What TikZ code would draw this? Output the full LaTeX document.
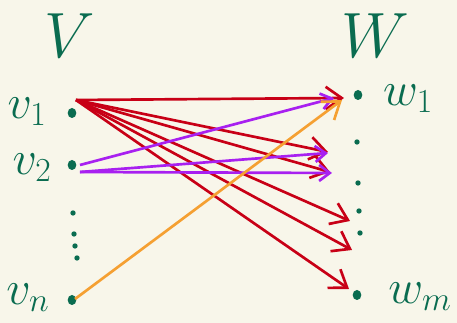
\RequirePackage{fix-cm}
\documentclass[tikz,border=0pt]{standalone}
\usepackage{amsmath}
\usepackage{tikz}
\usetikzlibrary{arrows.meta,shapes.geometric}
\definecolor{paper}{RGB}{248,246,234}
\definecolor{ink}{RGB}{10,108,80}
\definecolor{redpen}{RGB}{200,0,22}
\definecolor{purplepen}{RGB}{168,32,240}
\definecolor{orangepen}{RGB}{245,160,50}

\begin{document}
\begin{tikzpicture}[x=0.75pt,y=-0.75pt,
    dot/.style={ellipse,fill=ink,inner sep=0pt,minimum width=6.5pt,minimum height=7.5pt},
    tiny/.style={circle,fill=ink,inner sep=0pt,minimum size=4pt},
    lab/.style={text=ink,font=\fontsize{36}{40}\selectfont},
    big/.style={text=ink,font=\fontsize{48}{54}\selectfont},
    redarrow/.style={draw=redpen,line width=2pt,-{Straight Barb[length=12pt,width=17pt]}},
    purplearrow/.style={draw=purplepen,line width=2pt,-{Straight Barb[length=8pt,width=12pt]}},
    orangearrow/.style={draw=orangepen,line width=2pt,-{Straight Barb[length=12pt,width=17pt]}}]
    \fill [paper] (0,0) rectangle (457,323);
    \useasboundingbox (0,0) rectangle (457,323);
    % set names
    \node[big] (V) at (70,36) {$V$};
    \node[big] (W) at (375,36) {$W$};
    % left column
    \node[dot] (v1) at (72,113) {};
    \node[dot] (v2) at (72,165) {};
    \node[dot] (vn) at (72,300) {};
    \node[lab] (v1lab) at (27,112) {$v_1$};
    \node[lab] (v2lab) at (32,168) {$v_2$};
    \node[lab] (vnlab) at (28,298) {$v_n$};
    \node[tiny] (l1) at (73,213) {};
    \node[tiny] (l2) at (74,234) {};
    \node[tiny] (l3) at (75,246) {};
    \node[tiny] (l4) at (77,258) {};
    % right column
    \node[dot] (w1) at (358,95) {};
    \node[dot] (wm) at (357,295) {};
    \node[lab] (w1lab) at (408,99) {$w_1$};
    \node[lab] (wmlab) at (420,297) {$w_m$};
    \node[tiny] (r1) at (357,142) {};
    \node[tiny] (r2) at (358,183) {};
    \node[tiny] (r3) at (359,211) {};
    \node[tiny] (r4) at (360,233) {};
    % arrow ends
    \coordinate (v1out) at (76,100);
    \coordinate (v2outa) at (80,165);
    \coordinate (v2outb) at (80,172);
    \coordinate (vnout) at (75,299);
    \coordinate (e1) at (344,98);
    \coordinate (e2) at (328,152);
    \coordinate (e3) at (330,172);
    \coordinate (e4) at (350,221);
    \coordinate (e5) at (352,250);
    \coordinate (e6) at (349,289);
    \coordinate (p1) at (334,98);
    \coordinate (p2) at (328,153);
    \coordinate (p3) at (332,173);
    \coordinate (o1) at (342,100);
    % maps from V to W
    \draw[redarrow] (v1out) -- (e1);
    \draw[redarrow] (v1out) -- (e2);
    \draw[redarrow] (v1out) -- (e3);
    \draw[redarrow] (v1out) -- (e4);
    \draw[redarrow] (v1out) -- (e5);
    \draw[redarrow] (v1out) -- (e6);
    \draw[purplearrow] (v2outa) -- (p1);
    \draw[purplearrow] (v2outb) -- (p2);
    \draw[purplearrow] (v2outb) -- (p3);
    \draw[orangearrow] (vnout) -- (o1);
\end{tikzpicture}
\end{document}
